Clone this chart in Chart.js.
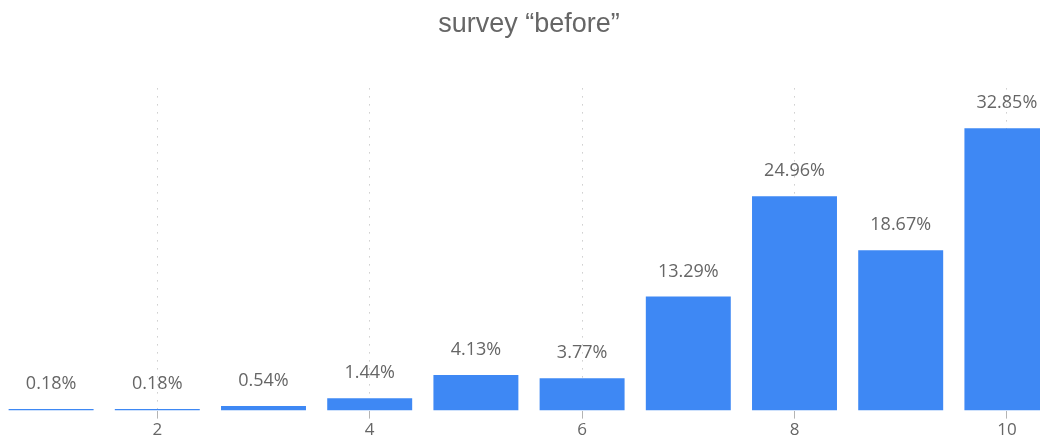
<!DOCTYPE html>
<html>
<head>
<meta charset="utf-8">
<script src="https://cdn.jsdelivr.net/npm/chart.js@4.4.1/dist/chart.umd.min.js"></script>
<style>
  html, body { margin:0; padding:0; background:#fff; overflow:hidden; }
  #wrap { position:absolute; left:-2px; top:0; width:1062px; height:441px; }
</style>
</head>
<body>
<div id="wrap"><canvas id="myChart"></canvas></div>
<script>
var categories = ['1','2','3','4','5','6','7','8','9','10'];
var shares = [0.18, 0.18, 0.54, 1.44, 4.13, 3.77, 13.29, 24.96, 18.67, 32.85];
var titleText = 'survey \u201cbefore\u201d';

// percent labels above each bar
var barLabels = {
  id: 'barLabels',
  afterDatasetsDraw: function(chart) {
    var ctx = chart.ctx;
    var meta = chart.getDatasetMeta(0);
    ctx.save();
    ctx.font = '18px "Open Sans"';
    ctx.fillStyle = '#666';
    ctx.textAlign = 'center';
    ctx.textBaseline = 'middle';
    meta.data.forEach(function(bar, i) {
      ctx.fillText(shares[i].toFixed(2) + '%', bar.x, bar.y - 25);
    });
    ctx.restore();
  }
};

var ctx = document.getElementById('myChart').getContext('2d');
var chart = new Chart(ctx, {
  type: 'bar',
  data: {
    labels: categories,
    datasets: [{
      data: shares,
      backgroundColor: '#3e88f4',
      barPercentage: 0.8,
      categoryPercentage: 1.0
    }]
  },
  options: {
    responsive: true,
    maintainAspectRatio: false,
    animation: false,
    layout: { padding: 0 },
    plugins: {
      legend: { display: false },
      tooltip: { enabled: false },
      title: {
        display: true,
        text: titleText,
        color: '#666',
        font: { family: '"Liberation Sans", Arial, sans-serif', size: 27, weight: 'normal', lineHeight: 1.2 },
        padding: { top: 8, bottom: 48 }
      }
    },
    scales: {
      x: {
        offset: true,
        border: { display: false, dash: [1, 7] },
        grid: {
          offset: false,
          tickLength: 8,
          color: function(c) { return c.index % 2 === 1 ? '#b4b4b4' : 'rgba(0,0,0,0)'; }
        },
        ticks: {
          padding: 1,
          color: '#666',
          font: { family: '"Open Sans"', size: 17, lineHeight: 1.2 },
          autoSkip: false,
          maxRotation: 0,
          callback: function(v, i) { return i % 2 === 1 ? categories[i] : ''; }
        }
      },
      y: {
        display: false,
        min: 0,
        max: 37.5
      }
    }
  },
  plugins: [barLabels]
});
</script>
</body>
</html>
